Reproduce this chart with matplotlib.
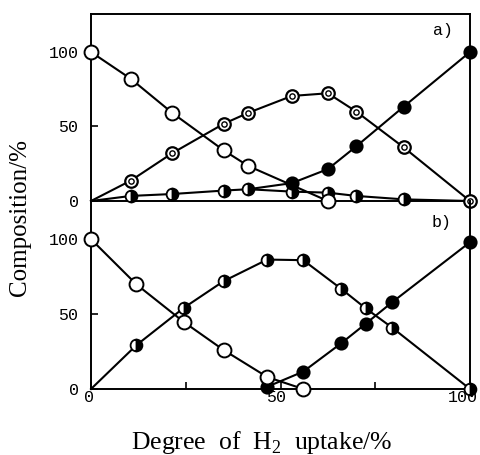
import matplotlib
matplotlib.use("Agg")
import matplotlib.pyplot as plt
import matplotlib.transforms as mtransforms

# ---- data ----
# panel a)
a_open_x = [0, 10.5, 21.5, 35, 41.5, 62.5]
a_open_y = [100, 82, 59, 34, 23.5, 0]
a_dbl_x = [0, 10.5, 21.5, 35, 41.5, 53, 62.5, 70, 82.5, 100]
a_dbl_y = [0, 13.7, 32.2, 51.8, 59.2, 70.5, 72.3, 60, 36, 0]
a_half_x = [0, 10.5, 21.5, 35, 41.5, 53, 62.5, 70, 82.5, 100]
a_half_y = [0, 3.4, 4.7, 7, 7.9, 6.3, 5.6, 3.4, 1.1, 0]
a_fill_x = [41.5, 53, 62.5, 70, 82.5, 100]
a_fill_y = [7.9, 12, 21.4, 36.7, 63.3, 100]

# panel b)
b_open_x = [0, 12, 24.5, 35, 46.5, 56]
b_open_y = [100, 69.8, 44.7, 26, 8, 0]
b_half_x = [0, 12, 24.5, 35, 46.5, 56, 66, 72.5, 79.5, 100]
b_half_y = [0, 29.3, 54.2, 72, 86.4, 86, 66.9, 53.8, 40.9, 0]
b_fill_x = [46.5, 56, 66, 72.5, 79.5, 100]
b_fill_y = [1.5, 11.6, 30.5, 43.6, 58, 98]

y_ticks = [0, 50, 100]
x_ticks = [0, 25, 50, 75, 100]
x_ticklabels = ["0", "", "50", "", "100"]

plt.rcParams['mathtext.fontset'] = 'custom'
plt.rcParams['mathtext.rm'] = 'Liberation Serif'

W, H = 480, 455
fig = plt.figure(figsize=(W / 100, H / 100), dpi=100)

left, right = 91 / W, 470 / W
y_top, y_mid, y_bot = 14, 201, 389
axa = fig.add_axes([left, 1 - y_mid / H, right - left, (y_mid - y_top) / H])
axb = fig.add_axes([left, 1 - y_bot / H, right - left, (y_bot - y_mid) / H])

LW = 1.5
MS = 9.5
mono = 'Liberation Mono'


def line(ax, x, y):
    ax.plot(x, y, color='black', lw=LW, zorder=2, clip_on=False)


def open_m(ax, x, y, ms=MS + 0.5):
    ax.plot(x, y, ls='none', marker='o', ms=ms, mfc='white', mec='black',
            mew=1.4, zorder=4, clip_on=False)


def fill_m(ax, x, y):
    ax.plot(x, y, ls='none', marker='o', ms=MS - 0.5, mfc='black', mec='black',
            mew=1.2, zorder=4, clip_on=False)


def half_m(ax, x, y):
    ax.plot(x, y, ls='none', marker='o', ms=MS - 1, fillstyle='right',
            mfc='black', mfcalt='white', mec='black', mew=1.3, zorder=4,
            clip_on=False)


def dbl_m(ax, x, y):
    ax.plot(x, y, ls='none', marker='o', ms=MS - 0.5, mfc='white', mec='black',
            mew=1.6, zorder=4, clip_on=False)
    ax.plot(x, y, ls='none', marker='o', ms=3.8, mfc='white', mec='black',
            mew=1.0, zorder=5, clip_on=False)


# panel a
for xs, ys in [(a_open_x, a_open_y), (a_dbl_x, a_dbl_y),
               (a_half_x, a_half_y), (a_fill_x, a_fill_y)]:
    line(axa, xs, ys)
dbl_m(axa, a_dbl_x[1:], a_dbl_y[1:])
half_m(axa, a_half_x[1:-1], a_half_y[1:-1])
fill_m(axa, a_fill_x[1:], a_fill_y[1:])
open_m(axa, a_open_x, a_open_y)

# panel b
for xs, ys in [(b_open_x, b_open_y), (b_half_x, b_half_y),
               (b_fill_x, b_fill_y)]:
    line(axb, xs, ys)
half_m(axb, b_half_x[1:], b_half_y[1:])
fill_m(axb, b_fill_x, b_fill_y)
open_m(axb, b_open_x, b_open_y)

for ax in (axa, axb):
    ax.set_xlim(0, 100)
    ax.set_ylim(0, 125.5)
    ax.set_yticks(y_ticks)
    ax.set_yticklabels([str(v) for v in y_ticks], fontfamily=mono, fontsize=12)
    ax.tick_params(axis='y', direction='in', length=5, width=1.2, pad=9,
                   left=True, right=False)
    for s in ax.spines.values():
        s.set_linewidth(1.4)
    ax.set_facecolor('none')

axa.set_xticks([])
axb.spines['top'].set_visible(False)
axb.set_xticks(x_ticks)
axb.set_xticklabels(x_ticklabels, fontfamily=mono, fontsize=12)
axb.tick_params(axis='x', direction='in', length=5, width=1.2, pad=1,
                top=False)

# nudge x tick labels slightly left, as in the reference
shifts = {"0": -2, "50": -4, "100": -7}
for lab in axb.get_xticklabels():
    dx = shifts.get(lab.get_text(), 0)
    lab.set_transform(lab.get_transform() +
                      mtransforms.ScaledTranslation(dx / 100, 0,
                                                    fig.dpi_scale_trans))

fig.text(433 / W, 1 - 31 / H, "a)", fontfamily=mono, fontsize=12,
         ha='left', va='center')
fig.text(432 / W, 1 - 222 / H, "b)", fontfamily=mono, fontsize=12,
         ha='left', va='center')

fig.text(20 / W, 1 - 218 / H, "Composition/%", family='Liberation Serif',
         fontsize=18, rotation=90, ha='center', va='center')
fig.text(262 / W, 1 - 443 / H, r"Degree  of  H$_{2}$  uptake/%",
         family='Liberation Serif', fontsize=18.5, ha='center', va='center')

fig.savefig("out.png", dpi=100)
